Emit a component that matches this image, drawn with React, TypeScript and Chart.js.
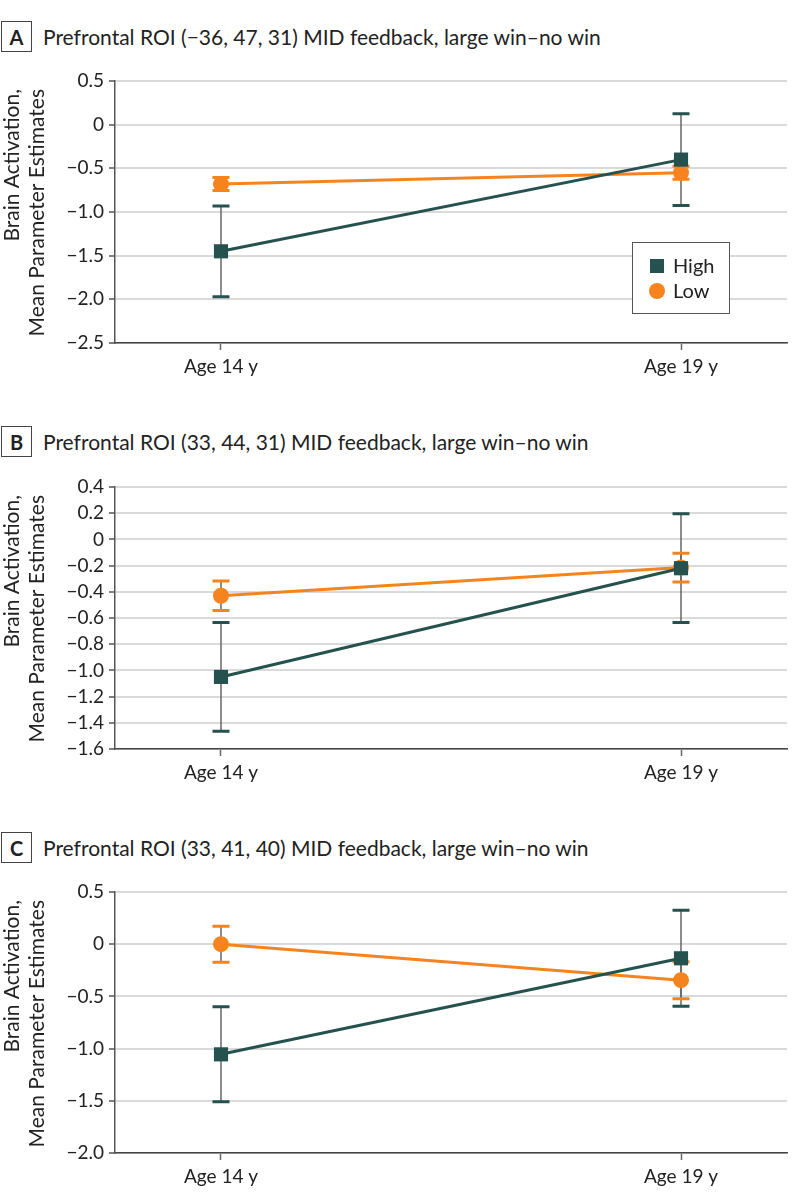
import React, { useEffect, useRef } from 'react';
import { Chart, registerables } from 'chart.js';

Chart.register(...registerables);

// ---------- data ----------
const ages = [14, 19];
const ageLabels = ['Age 14 y', 'Age 19 y'];
const seriesNames = ['High', 'Low'];

const aHigh = [-1.45, -0.4];
const aHighErr = [0.52, 0.525];
const aLow = [-0.68, -0.55];
const aLowErr = [0.075, 0.075];
const aYTicks = [0.5, 0, -0.5, -1.0, -1.5, -2.0, -2.5];

const bHigh = [-1.05, -0.22];
const bHighErr = [0.415, 0.415];
const bLow = [-0.43, -0.215];
const bLowErr = [0.112, 0.11];
const bYTicks = [0.4, 0.2, 0, -0.2, -0.4, -0.6, -0.8, -1.0, -1.2, -1.4, -1.6];

const cHigh = [-1.055, -0.135];
const cHighErr = [0.455, 0.46];
const cLow = [0.0, -0.345];
const cLowErr = [0.172, 0.177];
const cYTicks = [0.5, 0, -0.5, -1.0, -1.5, -2.0];

const yTitle = ['Brain Activation,', 'Mean Parameter Estimates'];

// ---------- style ----------
const TEAL = '#25524e';
const ORANGE = '#f5841f';
const FONT = 'Lato, "Liberation Sans", sans-serif';
const TEXT = '#222';
const XPAD = 1.152;

const fmt = (v: number) => {
  if (Math.abs(v) < 1e-9) return '0';
  return (v < 0 ? '\u2212' : '') + Math.abs(v).toFixed(1);
};

const errorBarPlugin = {
  id: 'errorBars',
  beforeDatasetsDraw(chart: any) {
    const { ctx } = chart;
    const xs = chart.scales.x;
    const ys = chart.scales.y;
    chart.data.datasets.forEach((ds: any) => {
      const err = ds.err as number[];
      ds.data.forEach((p: any, i: number) => {
        const x = xs.getPixelForValue(p.x);
        const yTop = ys.getPixelForValue(p.y + err[i]);
        const yBot = ys.getPixelForValue(p.y - err[i]);
        ctx.save();
        ctx.strokeStyle = '#666';
        ctx.lineWidth = 1.5;
        ctx.beginPath();
        ctx.moveTo(x, yTop);
        ctx.lineTo(x, yBot);
        ctx.stroke();
        ctx.strokeStyle = ds.borderColor;
        ctx.lineWidth = 3;
        ctx.beginPath();
        ctx.moveTo(x - 8.5, yTop);
        ctx.lineTo(x + 8.5, yTop);
        ctx.moveTo(x - 8.5, yBot);
        ctx.lineTo(x + 8.5, yBot);
        ctx.stroke();
        ctx.restore();
      });
    });
  },
};

const yTitlePlugin = {
  id: 'yTitle',
  afterDraw(chart: any) {
    const { ctx, chartArea } = chart;
    ctx.save();
    ctx.font = `21px ${FONT}`;
    ctx.fillStyle = TEXT;
    ctx.textAlign = 'right';
    ctx.textBaseline = 'middle';
    yTitle.forEach((line, i) => {
      ctx.save();
      ctx.translate(12.5 + i * 25, chartArea.top + 8);
      ctx.rotate(-Math.PI / 2);
      ctx.fillText(line, 0, 0);
      ctx.restore();
    });
    ctx.restore();
  },
};

const legendPlugin = {
  id: 'boxLegend',
  afterDraw(chart: any) {
    if (!chart.options.plugins.boxLegend?.show) return;
    const { ctx, chartArea } = chart;
    const left = chartArea.left + 517;
    const top = chartArea.top + 161;
    const w = 97;
    const h = 71;
    ctx.save();
    ctx.fillStyle = '#fff';
    ctx.fillRect(left, top, w, h);
    ctx.strokeStyle = '#555';
    ctx.lineWidth = 1;
    ctx.strokeRect(left + 0.5, top + 0.5, w, h);
    ctx.font = `20px ${FONT}`;
    ctx.textBaseline = 'middle';
    ctx.textAlign = 'left';
    const cx = left + 25;
    const y1 = top + 24;
    const y2 = top + 49;
    ctx.fillStyle = TEAL;
    ctx.fillRect(cx - 7, y1 - 7, 14, 14);
    ctx.fillStyle = ORANGE;
    ctx.beginPath();
    ctx.arc(cx, y2, 8, 0, Math.PI * 2);
    ctx.fill();
    ctx.fillStyle = TEXT;
    ctx.fillText(seriesNames[0], left + 41, y1 + 1);
    ctx.fillText(seriesNames[1], left + 41, y2 + 1);
    ctx.restore();
  },
};

type PanelProps = {
  letter: string;
  title: string;
  top: number;
  canvasTop: number;
  canvasHeight: number;
  high: number[];
  highErr: number[];
  low: number[];
  lowErr: number[];
  yTicks: number[];
  legend?: boolean;
};

function Panel(props: PanelProps) {
  const ref = useRef<HTMLCanvasElement | null>(null);
  useEffect(() => {
    if (!ref.current) return;
    const yMax = Math.max(...props.yTicks);
    const yMin = Math.min(...props.yTicks);
    const chart = new Chart(ref.current, {
      type: 'line',
      data: {
        datasets: [
          {
            label: seriesNames[0],
            data: ages.map((x, i) => ({ x, y: props.high[i] })),
            err: props.highErr,
            borderColor: TEAL,
            backgroundColor: TEAL,
            borderWidth: 3,
            pointStyle: 'rect',
            pointRadius: 10,
            pointHoverRadius: 10,
            pointBorderWidth: 0,
          } as any,
          {
            label: seriesNames[1],
            data: ages.map((x, i) => ({ x, y: props.low[i] })),
            err: props.lowErr,
            borderColor: ORANGE,
            backgroundColor: ORANGE,
            borderWidth: 3,
            pointStyle: 'circle',
            pointRadius: 8,
            pointHoverRadius: 8,
            pointBorderWidth: 0,
          } as any,
        ],
      },
      options: {
        animation: false,
        responsive: false,
        maintainAspectRatio: false,
        events: [],
        layout: { padding: { top: 20, right: 11, left: 0, bottom: 0 } },
        plugins: {
          legend: { display: false },
          tooltip: { enabled: false },
          boxLegend: { show: !!props.legend },
        } as any,
        scales: {
          x: {
            type: 'linear',
            min: ages[0] - XPAD,
            max: ages[ages.length - 1] + XPAD,
            afterBuildTicks: (s: any) => {
              s.ticks = ages.map((v) => ({ value: v }));
            },
            afterFit: (s: any) => {
              s.height = 50;
            },
            ticks: {
              callback: (v: any) => {
                const i = ages.indexOf(Number(v));
                return i >= 0 ? ageLabels[i] : '';
              },
              font: { family: FONT, size: 19 },
              color: TEXT,
              padding: 5,
              maxRotation: 0,
              autoSkip: false,
            },
            grid: {
              drawOnChartArea: false,
              tickLength: 7,
              tickColor: '#666',
              tickWidth: 1.5,
            },
            border: { color: '#444', width: 1.5 },
          },
          y: {
            type: 'linear',
            min: yMin,
            max: yMax,
            afterBuildTicks: (s: any) => {
              s.ticks = props.yTicks.map((v) => ({ value: v }));
            },
            afterFit: (s: any) => {
              s.width = 115;
            },
            ticks: {
              callback: (v: any) => fmt(Number(v)),
              font: { family: FONT, size: 19 },
              color: TEXT,
              padding: 5,
              autoSkip: false,
            },
            grid: {
              color: '#dadada',
              lineWidth: 2,
              tickLength: 6,
              tickColor: '#555',
              tickWidth: 1.5,
            },
            border: { color: '#555', width: 1.5 },
          },
        },
      } as any,
      plugins: [errorBarPlugin, yTitlePlugin, legendPlugin],
    });
    return () => chart.destroy();
  }, []);

  return (
    <>
      <div
        style={{
          position: 'absolute',
          left: 1,
          top: props.top,
          width: 29,
          height: 29,
          border: '1px solid #444',
          display: 'flex',
          alignItems: 'center',
          justifyContent: 'center',
          fontFamily: FONT,
          fontWeight: 700,
          fontSize: 20,
          color: TEXT,
          boxSizing: 'content-box',
        }}
      >
        {props.letter}
      </div>
      <div
        style={{
          position: 'absolute',
          left: 43,
          top: props.top,
          height: 31,
          lineHeight: '31px',
          fontFamily: FONT,
          fontSize: 21,
          color: TEXT,
          whiteSpace: 'nowrap',
        }}
      >
        {props.title}
      </div>
      <canvas
        ref={ref}
        width={798}
        height={props.canvasHeight}
        style={{
          position: 'absolute',
          left: 0,
          top: props.canvasTop,
          width: 798,
          height: props.canvasHeight,
          display: 'block',
        }}
      />
    </>
  );
}

export default function App() {
  return (
    <div
      style={{
        position: 'absolute',
        left: 0,
        top: 0,
        width: 798,
        height: 1204,
        background: '#fff',
        overflow: 'hidden',
      }}
    >
      <Panel
        letter="A"
        title={'Prefrontal ROI (\u221236, 47, 31) MID feedback, large win\u2013no win'}
        top={21}
        canvasTop={61}
        canvasHeight={332}
        high={aHigh}
        highErr={aHighErr}
        low={aLow}
        lowErr={aLowErr}
        yTicks={aYTicks}
        legend
      />
      <Panel
        letter="B"
        title={'Prefrontal ROI (33, 44, 31) MID feedback, large win\u2013no win'}
        top={426}
        canvasTop={467}
        canvasHeight={332}
        high={bHigh}
        highErr={bHighErr}
        low={bLow}
        lowErr={bLowErr}
        yTicks={bYTicks}
      />
      <Panel
        letter="C"
        title={'Prefrontal ROI (33, 41, 40) MID feedback, large win\u2013no win'}
        top={832}
        canvasTop={872}
        canvasHeight={331}
        high={cHigh}
        highErr={cHighErr}
        low={cLow}
        lowErr={cLowErr}
        yTicks={cYTicks}
      />
    </div>
  );
}
